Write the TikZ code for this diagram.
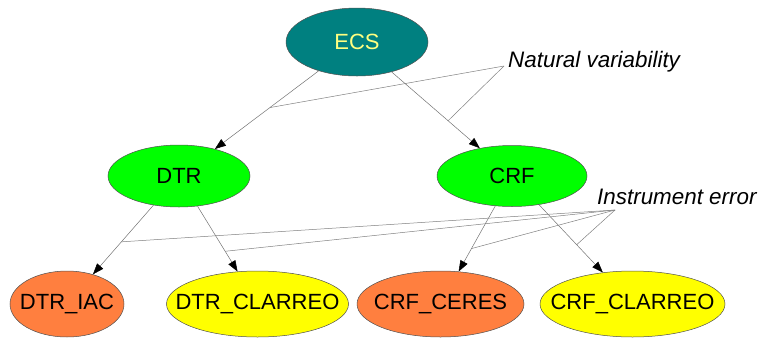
\documentclass[tikz,border=0pt]{standalone}
\usepackage{fontspec}
\setmainfont{Liberation Sans}
\usetikzlibrary{shapes.geometric,arrows.meta}
\definecolor{teal1}{HTML}{008080}
\definecolor{ecstext}{HTML}{FFFF80}
\definecolor{green1}{HTML}{00FF00}
\definecolor{orange1}{HTML}{FF7F3F}
\definecolor{yellow1}{HTML}{FFFF00}
\definecolor{border1}{HTML}{505050}
\newcommand{\zw}[1]{\makebox[0pt]{#1}}
\begin{document}
\begin{tikzpicture}[x=1pt,y=-1pt,
  nodebox/.style={ellipse,draw=border1,line width=0.5pt,inner sep=0pt,font=\fontsize{22}{26}\selectfont},
  edge/.style={draw=black!55,line width=0.5pt,-{Triangle[length=11pt,width=8pt,color=black]}},
  note/.style={draw=black!50,line width=0.5pt},
  lbl/.style={font=\fontsize{22.4}{26}\selectfont\itshape,inner sep=0pt,anchor=base west}]
\useasboundingbox (0,0) rectangle (761,338);
\node[nodebox,fill=teal1,text=ecstext,minimum width=142pt,minimum height=68pt] (ECS) at (357,42) {\zw{ECS}};
\node[nodebox,fill=green1,minimum width=142pt,minimum height=62pt] (DTR) at (179,176) {\zw{DTR}};
\node[nodebox,fill=green1,minimum width=150pt,minimum height=61pt] (CRF) at (512,176) {\zw{CRF}};
\node[nodebox,fill=orange1,minimum width=114pt,minimum height=66pt] (IAC) at (67,304) {\zw{DTR\_IAC}};
\node[nodebox,fill=yellow1,minimum width=182pt,minimum height=66pt] (DCL) at (257.5,304) {\zw{DTR\_CLARREO}};
\node[nodebox,fill=orange1,minimum width=167pt,minimum height=66pt] (CER) at (440.5,304) {\zw{CRF\_CERES}};
\node[nodebox,fill=yellow1,minimum width=185pt,minimum height=66pt] (CCL) at (632.5,304) {\zw{CRF\_CLARREO}};
\node[lbl] (nvt) at (508,67) {Natural variability};
\node[lbl] (iet) at (597,204) {Instrument error};
\coordinate (nv) at (504,66);
\coordinate (ie) at (615,210);
\draw[edge] (ECS) -- (DTR) coordinate[pos=0.47] (m1);
\draw[edge] (ECS) -- (CRF) coordinate[pos=0.64] (m2);
\draw[edge] (DTR) -- (IAC) coordinate[pos=0.53] (m3);
\draw[edge] (DTR) -- (DCL) coordinate[pos=0.69] (m4);
\draw[edge] (CRF) -- (CER) coordinate[pos=0.65] (m5);
\draw[edge] (CRF) -- (CCL) coordinate[pos=0.59] (m6);
\draw[note] (nv) -- (m1);
\draw[note] (nv) -- (m2);
\draw[note] (ie) -- (m3);
\draw[note] (ie) -- (m4);
\draw[note] (ie) -- (m5);
\draw[note] (ie) -- (m6);
\end{tikzpicture}
\end{document}
